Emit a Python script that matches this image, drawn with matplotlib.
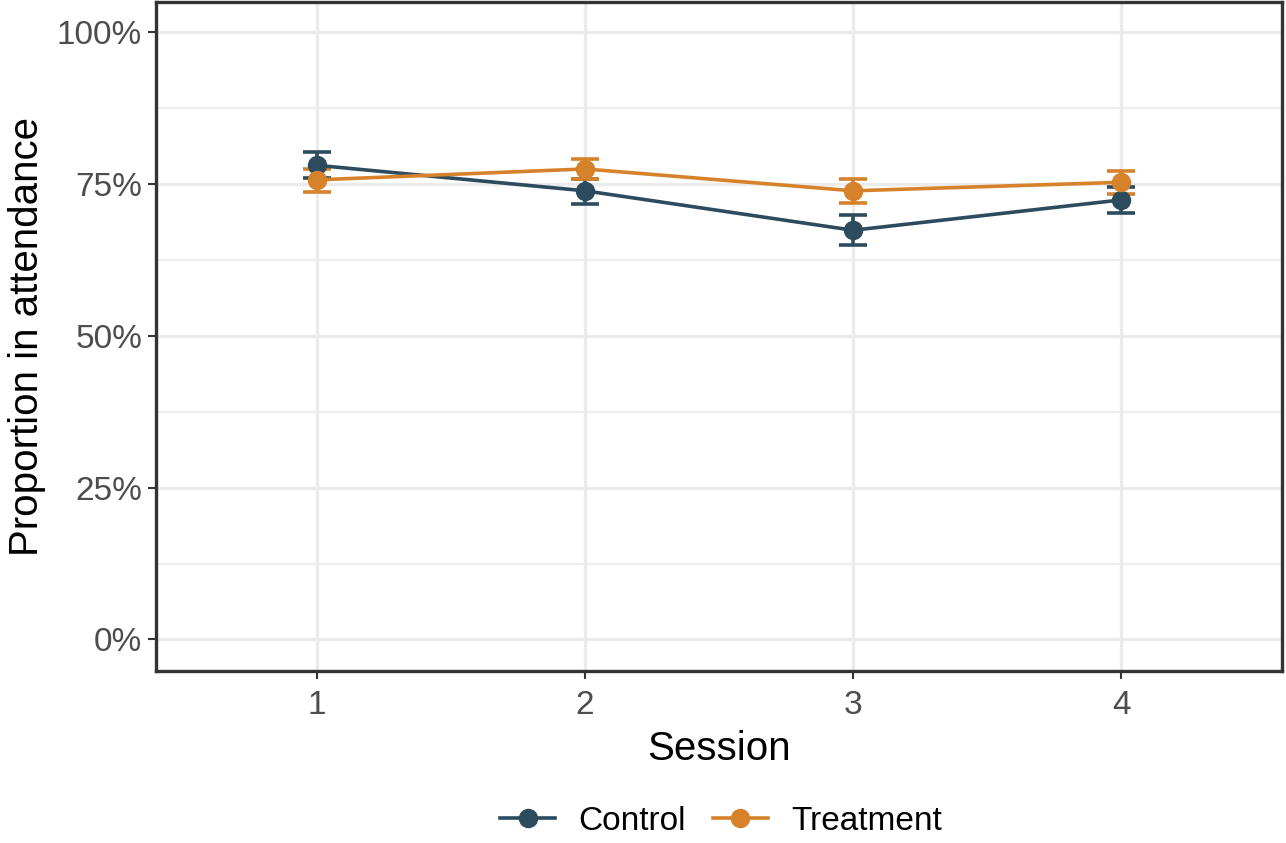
import matplotlib
matplotlib.use("Agg")
import matplotlib.pyplot as plt
from matplotlib.ticker import FixedLocator

plt.rcParams['font.family'] = ['Liberation Sans', 'DejaVu Sans']

sessions = [1, 2, 3, 4]
control = [78.1, 73.9, 67.4, 72.4]
control_lo = [76.0, 71.8, 65.0, 70.3]
control_hi = [80.3, 75.8, 69.9, 74.6]
treatment = [75.7, 77.5, 73.9, 75.3]
treatment_lo = [73.7, 75.8, 71.9, 73.4]
treatment_hi = [77.5, 79.1, 75.9, 77.1]

c_col = "#2C4C5E"
t_col = "#D6822B"

fig = plt.figure(figsize=(12.86, 8.43), dpi=100)
ax = fig.add_axes([156/1286, 1 - 671/843, (1282-156)/1286, (671-2)/843])

for vals, lo, hi, col, lab in [(control, control_lo, control_hi, c_col, "Control"),
                               (treatment, treatment_lo, treatment_hi, t_col, "Treatment")]:
    yerr = [[v - l for v, l in zip(vals, lo)], [h - v for v, h in zip(vals, hi)]]
    ax.errorbar(sessions, vals, yerr=yerr, fmt='none', ecolor=col, elinewidth=2.6,
                capsize=10, capthick=2.6, zorder=3)
    ax.plot(sessions, vals, color=col, lw=2.6, marker='o', markersize=13, label=lab, zorder=4)

ax.set_xlim(0.4, 4.6)
ax.set_ylim(-5.2, 105)
ax.set_xticks(sessions)
ax.set_xticklabels([str(s) for s in sessions])
ax.set_yticks([0, 25, 50, 75, 100])
ax.set_yticklabels(["0%", "25%", "50%", "75%", "100%"])
ax.yaxis.set_minor_locator(FixedLocator([12.5, 37.5, 62.5, 87.5]))
ax.grid(True, which='major', color='#EBEBEB', lw=2.4)
ax.grid(True, which='minor', axis='y', color='#EBEBEB', lw=1.2)
ax.set_axisbelow(True)
ax.tick_params(axis='both', which='major', labelsize=24, labelcolor='#4D4D4D',
               color='#333333', length=6, width=1.5, pad=4)
ax.tick_params(axis='x', which='major', pad=8)
ax.tick_params(axis='both', which='minor', length=0)
for s in ax.spines.values():
    s.set_color('#333333')
    s.set_linewidth(2.4)

ax.set_xlabel("Session", fontsize=29, labelpad=6)
ax.set_ylabel("Proportion in attendance", fontsize=29, labelpad=8)

leg = fig.legend(loc='center', bbox_to_anchor=(721/1286, 1 - 821/843), ncol=2, frameon=False,
                 fontsize=24, handlelength=1.65, columnspacing=0.8, handletextpad=0.7)

fig.savefig("out.png", dpi=100)
